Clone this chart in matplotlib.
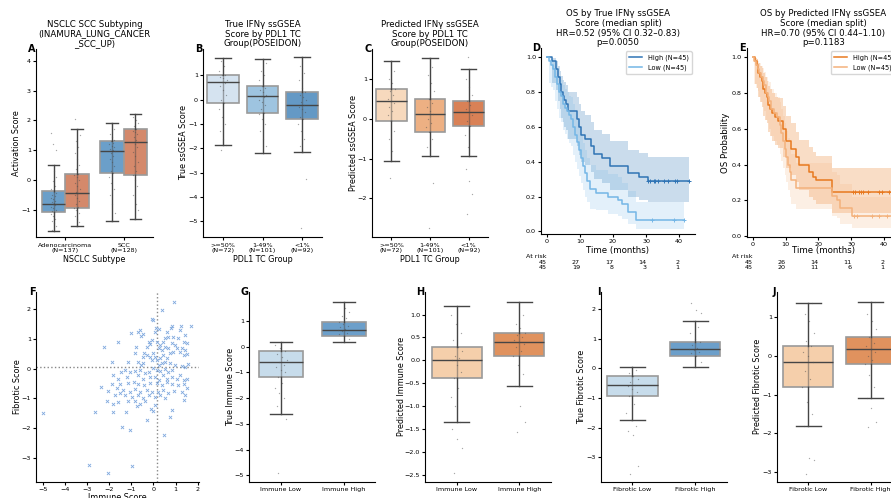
import matplotlib
matplotlib.use("Agg")
import matplotlib.pyplot as plt
import matplotlib.transforms as mtransforms
import numpy as np

plt.rcParams["font.family"] = ["DejaVu Sans"]

W, H = 891, 498

# ---------------- data ----------------
# box stats are (whislo, q1, median, q3, whishi)

# A: NSCLC subtype
a_groups = ["Adenocarcinoma\n(N=137)", "SCC\n(N=128)"]
a_box_blue = [(-1.72, -1.07, -0.80, -0.38, 0.50), (-1.37, 0.22, 0.96, 1.32, 1.90)]
a_box_orange = [(-1.56, -0.93, -0.45, 0.20, 1.71), (-1.31, 0.15, 1.29, 1.72, 2.20)]
a_pts_blue = [
    [-1.7, -1.55, -1.45, -1.38, -1.3, -1.22, -1.15, -1.1, -1.05, -1.0, -0.95, -0.9, -0.86,
     -0.82, -0.8, -0.78, -0.74, -0.7, -0.65, -0.6, -0.55, -0.5, -0.45, -0.4, -0.3, -0.2,
     -0.05, 0.1, 0.3, 0.5, 1.0, 1.2, 1.57],
    [-1.37, -1.1, -0.8, -0.5, -0.3, -0.1, 0.1, 0.22, 0.3, 0.45, 0.6, 0.7, 0.8, 0.9, 0.96,
     1.0, 1.05, 1.1, 1.15, 1.2, 1.25, 1.3, 1.35, 1.45, 1.55, 1.7, 1.9],
]
a_pts_orange = [
    [-1.55, -1.4, -1.3, -1.2, -1.1, -1.0, -0.95, -0.9, -0.8, -0.7, -0.6, -0.5, -0.45, -0.4,
     -0.3, -0.2, -0.1, 0.0, 0.1, 0.15, 0.2, 0.35, 0.5, 0.7, 0.9, 1.1, 1.3, 1.5, 1.7, 2.05],
    [-1.3, -1.0, -0.8, -0.5, -0.2, 0.0, 0.15, 0.3, 0.45, 0.6, 0.8, 0.95, 1.1, 1.2, 1.29,
     1.35, 1.45, 1.55, 1.6, 1.65, 1.7, 1.8, 1.9, 2.0, 2.1, 2.2],
]

# B / C: PDL1 TC groups
pdl1_groups = [">=50%\n(N=72)", "1-49%\n(N=101)", "<1%\n(N=92)"]
b_box = [(-1.85, -0.15, 0.73, 1.04, 1.74), (-2.20, -0.54, 0.14, 0.58, 1.69),
         (-2.15, -0.80, -0.23, 0.32, 1.76)]
b_pts = [
    [-2.05, -1.85, -1.6, -1.3, -1.0, -0.7, -0.4, -0.15, 0.0, 0.2, 0.4, 0.55, 0.7, 0.73, 0.8,
     0.9, 0.95, 1.0, 1.04, 1.2, 1.4, 1.6, 1.74],
    [-2.2, -1.9, -1.6, -1.3, -1.0, -0.8, -0.6, -0.54, -0.4, -0.2, -0.1, 0.0, 0.1, 0.14, 0.2,
     0.3, 0.4, 0.5, 0.58, 0.8, 1.0, 1.2, 1.5, 1.69],
    [-5.3, -3.25, -2.15, -1.9, -1.6, -1.3, -1.0, -0.8, -0.7, -0.5, -0.4, -0.3, -0.23, -0.1,
     0.0, 0.1, 0.2, 0.32, 0.5, 0.8, 1.1, 1.4, 1.76],
]
c_box = [(-1.06, -0.06, 0.46, 0.75, 1.46), (-0.94, -0.32, 0.12, 0.50, 1.53),
         (-0.94, -0.18, 0.18, 0.45, 1.26)]
c_pts = [
    [-1.48, -1.06, -0.8, -0.5, -0.3, -0.06, 0.1, 0.2, 0.3, 0.4, 0.46, 0.5, 0.6, 0.7, 0.75,
     0.9, 1.0, 1.2, 1.46],
    [-2.75, -1.6, -0.94, -0.7, -0.5, -0.32, -0.2, -0.1, 0.0, 0.12, 0.2, 0.3, 0.4, 0.5, 0.7,
     0.9, 1.1, 1.3, 1.53],
    [-2.4, -1.9, -1.55, -1.25, -0.94, -0.7, -0.4, -0.18, -0.05, 0.1, 0.18, 0.25, 0.35, 0.45,
     0.6, 0.8, 1.0, 1.26, 1.55],
]

# D / E: Kaplan-Meier (time in months, survival, CI low, CI high)
d_high_t = [0, 1.4, 2.8, 3.3, 3.8, 4.3, 4.8, 5.3, 5.8, 6.3, 9.0, 9.8, 10.2, 11.5, 13.2, 14.2,
            16.7, 19.0, 24.5, 28.0, 30.5, 43.1]
d_high_s = [1.0, 0.978, 0.933, 0.889, 0.844, 0.8, 0.778, 0.756, 0.733, 0.689, 0.644, 0.6,
            0.556, 0.533, 0.489, 0.444, 0.422, 0.378, 0.333, 0.311, 0.289, 0.289]
d_high_lo = [1.0, 0.85, 0.81, 0.75, 0.70, 0.65, 0.63, 0.60, 0.58, 0.53, 0.49, 0.44, 0.40,
             0.38, 0.34, 0.30, 0.28, 0.24, 0.20, 0.18, 0.17, 0.17]
d_high_hi = [1.0, 0.997, 0.98, 0.95, 0.92, 0.89, 0.87, 0.86, 0.84, 0.80, 0.77, 0.73, 0.69,
             0.67, 0.63, 0.58, 0.56, 0.52, 0.47, 0.45, 0.425, 0.425]
d_high_cens = [30.5, 31.3, 32.3, 32.8, 33.5, 35.4, 36.7, 38.6, 39.4, 43.1]
d_low_t = [0, 0.6, 1.2, 1.8, 2.4, 3.0, 3.6, 4.2, 4.8, 5.4, 6.0, 6.6, 7.2, 7.8, 8.4, 9.0, 9.6,
           10.2, 10.8, 11.4, 12.0, 13.0, 14.9, 18.6, 21.4, 22.8, 24.5, 26.8, 41.6]
d_low_s = [1.0, 0.978, 0.956, 0.933, 0.889, 0.844, 0.8, 0.778, 0.733, 0.711, 0.689, 0.667,
           0.644, 0.6, 0.556, 0.511, 0.467, 0.422, 0.378, 0.333, 0.289, 0.244, 0.222, 0.2,
           0.178, 0.156, 0.111, 0.067, 0.067]
d_low_lo = [1.0, 0.85, 0.83, 0.81, 0.75, 0.70, 0.65, 0.63, 0.58, 0.56, 0.53, 0.51, 0.49, 0.44,
            0.40, 0.36, 0.32, 0.28, 0.24, 0.20, 0.17, 0.13, 0.12, 0.10, 0.09, 0.07, 0.04,
            0.015, 0.015]
d_low_hi = [1.0, 0.997, 0.99, 0.98, 0.95, 0.92, 0.89, 0.87, 0.84, 0.82, 0.80, 0.78, 0.77, 0.73,
            0.69, 0.64, 0.60, 0.56, 0.51, 0.47, 0.42, 0.38, 0.35, 0.33, 0.31, 0.28, 0.23, 0.17,
            0.17]
d_low_cens = [31.8, 38.4, 41.6]

e_high_t = [0, 0.7, 1.2, 1.7, 2.2, 2.7, 3.2, 3.7, 4.2, 4.7, 5.2, 6.0, 6.7, 7.7, 9.2, 10.2,
            11.7, 13.2, 14.2, 17.2, 18.2, 19.2, 24.2, 43.0]
e_high_s = [1.0, 0.978, 0.956, 0.911, 0.889, 0.867, 0.822, 0.8, 0.778, 0.733, 0.711, 0.689,
            0.667, 0.644, 0.6, 0.533, 0.489, 0.444, 0.4, 0.356, 0.333, 0.311, 0.244, 0.244]
e_high_lo = [1.0, 0.85, 0.83, 0.78, 0.75, 0.72, 0.67, 0.65, 0.63, 0.58, 0.56, 0.53, 0.51,
             0.49, 0.44, 0.38, 0.34, 0.30, 0.26, 0.22, 0.20, 0.18, 0.13, 0.13]
e_high_hi = [1.0, 0.997, 0.99, 0.97, 0.95, 0.94, 0.91, 0.89, 0.87, 0.84, 0.82, 0.80, 0.78,
             0.77, 0.73, 0.67, 0.63, 0.58, 0.54, 0.50, 0.47, 0.45, 0.38, 0.38]
e_high_cens = [30.5, 31.2, 32.2, 32.9, 33.5, 35.2, 38.5, 39.2, 41.4]
e_low_t = [0, 0.5, 1.0, 1.5, 2.0, 2.5, 3.0, 3.5, 4.0, 4.5, 5.0, 5.5, 6.5, 7.5, 8.2, 8.7, 9.2,
           9.7, 10.2, 10.7, 11.2, 11.7, 13.2, 24.2, 25.5, 26.7, 30.2, 43.0]
e_low_s = [1.0, 0.978, 0.956, 0.933, 0.911, 0.889, 0.867, 0.844, 0.8, 0.778, 0.756, 0.711,
           0.689, 0.667, 0.622, 0.578, 0.533, 0.489, 0.444, 0.4, 0.356, 0.311, 0.267, 0.222,
           0.2, 0.156, 0.111, 0.111]
e_low_lo = [1.0, 0.85, 0.83, 0.81, 0.78, 0.75, 0.72, 0.70, 0.65, 0.63, 0.60, 0.56, 0.53, 0.51,
            0.46, 0.42, 0.38, 0.34, 0.30, 0.26, 0.22, 0.18, 0.15, 0.11, 0.10, 0.07, 0.045,
            0.045]
e_low_hi = [1.0, 0.997, 0.99, 0.98, 0.97, 0.95, 0.94, 0.92, 0.89, 0.87, 0.86, 0.82, 0.80, 0.78,
            0.75, 0.71, 0.67, 0.63, 0.59, 0.55, 0.50, 0.46, 0.41, 0.36, 0.34, 0.29, 0.22, 0.22]
e_low_cens = [30.7, 31.7, 36.2, 38.5, 40.7]

risk_times = [0, 10, 20, 30, 40]
d_risk_high = [45, 27, 17, 14, 2]
d_risk_low = [45, 19, 8, 3, 1]
e_risk_high = [45, 26, 14, 11, 2]
e_risk_low = [45, 20, 11, 6, 1]

# F: immune vs fibrotic scatter
f_points = [
    (0.95, 2.26), (0.38, 1.98), (-0.07, 1.67), (0.0, 1.64), (0.12, 1.36), (0.23, 1.33),
    (0.08, 1.25), (0.86, 1.45), (0.8, 1.36), (1.25, 1.45), (1.21, 1.3), (1.7, 1.45),
    (-0.6, 1.3), (-0.68, 1.22), (-0.45, 1.16), (-0.55, 1.11), (-1.0, 1.21), (0.6, 1.25),
    (0.68, 1.08), (0.9, 1.05), (0.53, 1.02), (1.13, 1.02), (1.43, 1.13), (1.36, 0.91),
    (1.51, 0.85), (-1.58, 0.91), (-2.22, 0.74), (-0.8, 0.74), (-0.83, 0.52), (-0.22, 0.91),
    (-0.15, 0.82), (-0.07, 0.97), (-0.3, 0.74), (0.15, 0.91), (0.3, 0.8), (0.41, 0.91),
    (0.23, 0.69), (0.38, 0.63), (0.53, 0.74), (0.68, 0.69), (0.83, 0.85), (0.98, 0.8),
    (1.05, 0.69), (1.2, 0.57), (0.9, 0.57), (0.75, 0.52), (1.28, 0.69), (1.43, 0.63),
    (1.36, 0.46), (1.51, 0.48), (-0.41, 0.52), (-0.3, 0.46), (-0.15, 0.41), (-0.45, 0.41),
    (0.0, 0.52), (0.08, 0.41), (-0.07, 0.29), (0.15, 0.29), (0.3, 0.35), (0.45, 0.46),
    (0.6, 0.35), (0.38, 0.18), (0.23, 0.12), (0.53, 0.24), (-1.16, 0.24), (-1.88, 0.24),
    (-0.68, 0.24), (-0.55, 0.12), (-0.45, 0.18), (0.75, 0.18), (0.98, 0.12), (1.28, 0.10),
    (1.43, 0.07), (1.58, 0.15), (0.0, 0.01), (0.15, -0.04), (0.3, -0.08), (0.53, 0.0),
    (0.68, -0.1), (0.86, -0.04), (-1.28, -0.04), (-1.46, -0.12), (-1.06, -0.1), (-0.83, -0.08),
    (-0.6, -0.04), (-0.38, -0.16), (-0.22, -0.1), (-1.81, -0.21), (-1.58, -0.33),
    (-1.21, -0.27), (-0.68, -0.21), (-0.45, -0.33), (-0.15, -0.27), (0.08, -0.27),
    (0.23, -0.38), (0.45, -0.21), (0.6, -0.33), (0.83, -0.27), (1.05, -0.33), (1.21, -0.21),
    (1.36, -0.38), (1.51, -0.33), (-1.88, -0.53), (-1.5, -0.53), (-1.13, -0.49),
    (-0.9, -0.46), (-0.68, -0.53), (-0.41, -0.55), (-0.15, -0.49), (0.15, -0.49),
    (0.38, -0.55), (0.6, -0.46), (0.86, -0.53), (1.13, -0.55), (1.4, -0.53), (-2.37, -0.61),
    (-2.04, -0.75), (-1.66, -0.66), (-1.36, -0.72), (-1.06, -0.78), (-0.83, -0.68),
    (-0.6, -0.78), (-0.3, -0.72), (-0.07, -0.78), (0.2, -0.78), (0.45, -0.72), (0.68, -0.83),
    (0.95, -0.75), (1.28, -0.78), (1.51, -0.64), (-1.76, -0.89), (-1.5, -0.83),
    (-1.28, -0.89), (-0.98, -0.94), (-0.68, -0.89), (-0.45, -0.98), (-0.22, -0.89),
    (0.08, -0.94), (0.3, -0.89), (0.53, -1.0), (1.43, -0.89), (-2.11, -1.09), (-1.58, -1.11),
    (-1.13, -1.09), (-0.83, -1.09), (-0.6, -1.17), (-0.38, -1.09), (-1.81, -1.2),
    (-0.75, -1.24), (0.08, -1.22), (1.36, -1.06), (-2.66, -1.47), (-1.84, -1.47),
    (-1.25, -1.47), (-0.1, -1.36), (0.86, -1.39), (-0.03, -1.41), (-0.3, -1.73),
    (0.75, -1.62), (-1.43, -1.95), (-1.06, -2.07), (-5.0, -1.48), (-2.9, -3.24),
    (-2.06, -3.5), (-0.95, -3.28), (0.48, -2.23),
]
f_immune_median = 0.15
f_fibrotic_median = 0.07

# G-J: low / high groups
immune_groups = ["Immune Low", "Immune High"]
fibrotic_groups = ["Fibrotic Low", "Fibrotic High"]
g_box = [(-2.63, -1.16, -0.60, -0.17, 0.17), (0.18, 0.43, 0.65, 0.97, 1.73)]
g_pts = [
    [-4.9, -2.8, -2.63, -2.3, -2.0, -1.8, -1.6, -1.4, -1.16, -1.0, -0.9, -0.8, -0.7, -0.6,
     -0.5, -0.4, -0.3, -0.17, -0.05, 0.05, 0.17],
    [0.18, 0.3, 0.43, 0.5, 0.55, 0.6, 0.65, 0.7, 0.75, 0.8, 0.9, 0.97, 1.1, 1.2, 1.35, 1.5,
     1.73],
]
h_box = [(-1.35, -0.38, 0.00, 0.30, 1.19), (-0.55, 0.09, 0.41, 0.60, 1.27)]
h_pts = [
    [-2.45, -1.9, -1.7, -1.5, -1.35, -1.0, -0.8, -0.6, -0.38, -0.25, -0.1, 0.0, 0.05, 0.1,
     0.2, 0.3, 0.45, 0.6, 0.8, 1.0, 1.18],
    [-1.55, -1.35, -1.0, -0.55, -0.3, -0.1, 0.09, 0.2, 0.3, 0.35, 0.41, 0.45, 0.5, 0.55,
     0.6, 0.7, 0.8, 1.0, 1.27],
]
i_box = [(-1.74, -0.93, -0.55, -0.27, 0.06), (0.06, 0.40, 0.64, 0.90, 1.60)]
i_pts = [
    [-3.55, -3.3, -2.25, -2.1, -1.95, -1.74, -1.5, -1.2, -0.93, -0.8, -0.7, -0.6, -0.55,
     -0.45, -0.35, -0.27, -0.15, -0.05, 0.06],
    [0.06, 0.2, 0.4, 0.5, 0.55, 0.6, 0.64, 0.7, 0.8, 0.9, 1.0, 1.2, 1.4, 1.6, 1.85, 1.95,
     2.2],
]
j_box = [(-1.82, -0.81, -0.16, 0.26, 1.37), (-1.09, -0.21, 0.17, 0.50, 1.40)]
j_pts = [
    [-3.05, -2.7, -2.65, -1.82, -1.5, -1.2, -0.81, -0.6, -0.4, -0.16, 0.0, 0.1, 0.26, 0.4,
     0.6, 0.9, 1.1, 1.37],
    [-1.85, -1.7, -1.35, -1.09, -0.8, -0.5, -0.21, -0.1, 0.0, 0.1, 0.17, 0.25, 0.35, 0.5,
     0.7, 0.9, 1.1, 1.4],
]

TICK_FS = 4.6
LABEL_FS = 5.8
TITLE_FS = 6.2


def px_axes(fig, left, top, right, bottom):
    ax = fig.add_axes([left / W, 1 - bottom / H, (right - left) / W, (bottom - top) / H])
    ax.px = (left, top, right, bottom)
    ax.spines[["top", "right"]].set_visible(False)
    ax.tick_params(labelsize=TICK_FS, length=2.5, width=0.8, pad=1.5)
    ax.tick_params(axis="y", pad=1.2)
    return ax


def letter(ax, s):
    ax.annotate(s, xy=(0, 1), xycoords="axes fraction", xytext=(-0.5, 0),
                textcoords="offset points", ha="right", va="center",
                fontsize=7, fontweight="bold")


def ylab(ax, text, px_right, fs=LABEL_FS):
    left, top, right, bottom = ax.px
    ax.set_ylabel(text, fontsize=fs)
    ax.yaxis.set_label_coords((px_right - left) / (right - left), 0.5)


def xlab(ax, text, px_top, fs=LABEL_FS):
    left, top, right, bottom = ax.px
    ax.set_xlabel(text, fontsize=fs)
    ax.xaxis.set_label_coords(0.5, (bottom - px_top) / (bottom - top))


def jitter(n, half):
    return ((np.arange(n) * 0.618034 + 0.31) % 1.0 - 0.5) * 2 * half


def draw_boxes(ax, stats, positions, width, colors, points, half=0.1):
    bs = [dict(whislo=s[0], q1=s[1], med=s[2], q3=s[3], whishi=s[4], fliers=[])
          for s in stats]
    line = dict(color="#454545", linewidth=1.0)
    art = ax.bxp(bs, positions=positions, widths=width, capwidths=width * 0.5,
                 patch_artist=True, showfliers=False, manage_ticks=False,
                 boxprops=dict(edgecolor="#9a9a9a", linewidth=1.2),
                 whiskerprops=line, capprops=line, medianprops=line)
    for patch, c in zip(art["boxes"], colors):
        patch.set_facecolor(c)
    for p, s in zip(positions, stats):
        ax.vlines(p, s[1], s[3], color="#454545", lw=1.0, alpha=0.45, zorder=2.1)
    for p, vals in zip(positions, points):
        ax.scatter(p + jitter(len(vals), half), vals, s=0.9, c="#505050", alpha=0.5,
                   linewidths=0, zorder=3)


def draw_km(ax, t, s, lo, hi, cens, color, alpha, label):
    ax.fill_between(t, lo, hi, step="post", color=color, alpha=alpha, lw=0)
    ax.step(t, s, where="post", color=color, lw=1.1, label=label)
    cs = [s[np.searchsorted(t, c, side="right") - 1] for c in cens]
    ax.plot(cens, cs, "+", color=color, ms=3, mew=0.7)


def at_risk(fig, ax, rows, x_label_px):
    tr = mtransforms.blended_transform_factory(ax.transData, fig.transFigure)
    fig.text(x_label_px / W, 1 - 256 / H, "At risk", fontsize=TICK_FS, ha="left",
             va="center")
    for row, ypx in zip(rows, [262.3, 267.7]):
        for t, n in zip(risk_times, row):
            ax.text(t, 1 - ypx / H, str(n), transform=tr, fontsize=TICK_FS, ha="right",
                    va="center")


def km_panel(fig, ax, high, low, colors, title, risk, x_label_px, xlabel_top):
    draw_km(ax, *high, colors[0], 0.25, "High (N=45)")
    draw_km(ax, *low, colors[1], 0.2, "Low (N=45)")
    ax.set_xlim(-1.8, 44.8)
    ax.set_xticks([0, 10, 20, 30, 40])
    ax.set_yticks([0.0, 0.2, 0.4, 0.6, 0.8, 1.0])
    ax.tick_params(axis="x", pad=1.0)
    ax.set_title(title, fontsize=TITLE_FS, pad=2, linespacing=1.1)
    xlab(ax, "Time (months)", xlabel_top, fs=6.2)
    ax.legend(loc="upper right", fontsize=4.7, frameon=True, edgecolor="#cccccc",
              borderpad=0.5, handlelength=2.0)
    at_risk(fig, ax, risk, x_label_px)


fig = plt.figure(figsize=(W / 100, H / 100), dpi=100)

# ---------- A ----------
ax = px_axes(fig, 36, 49, 153, 237)
draw_boxes(ax, a_box_blue, [-0.2, 0.8], 0.4, ["#6b9fc9"] * 2, a_pts_blue, half=0.05)
draw_boxes(ax, a_box_orange, [0.2, 1.2], 0.4, ["#d4896b"] * 2, a_pts_orange, half=0.05)
ax.set_xlim(-0.5, 1.5)
ax.set_ylim(-1.92, 4.40)
ax.set_xticks([0, 1], a_groups, linespacing=1.0)
ax.set_yticks([-1, 0, 1, 2, 3, 4])
ax.set_title("NSCLC SCC Subtyping\n(INAMURA_LUNG_CANCER\n_SCC_UP)", fontsize=TITLE_FS,
             pad=2, linespacing=1.1)
ylab(ax, "Activation Score", 21.5)
xlab(ax, "NSCLC Subtype", 254.5)
letter(ax, "A")

# ---------- B ----------
ax = px_axes(fig, 203, 49, 322, 237)
draw_boxes(ax, b_box, [0, 1, 2], 0.8, ["#d5e3f0", "#9ec4e0", "#6499c5"], b_pts)
ax.set_xlim(-0.5, 2.5)
ax.set_ylim(-5.65, 2.09)
ax.set_xticks([0, 1, 2], pdl1_groups, linespacing=1.0)
ax.set_yticks([-5, -4, -3, -2, -1, 0, 1])
ax.set_title("True IFNγ ssGSEA\nScore by PDL1 TC\nGroup(POSEIDON)", fontsize=TITLE_FS,
             pad=2, linespacing=1.1)
ylab(ax, "True ssGSEA Score", 188.5)
xlab(ax, "PDL1 TC Group", 254.5)
letter(ax, "B")

# ---------- C ----------
ax = px_axes(fig, 372, 49, 488, 237)
draw_boxes(ax, c_box, [0, 1, 2], 0.8, ["#f7d9bd", "#edb083", "#d98156"], c_pts)
ax.set_xlim(-0.5, 2.5)
ax.set_ylim(-2.97, 1.76)
ax.set_xticks([0, 1, 2], pdl1_groups, linespacing=1.0)
ax.set_yticks([-2, -1, 0, 1])
ax.set_title("Predicted IFNγ ssGSEA\nScore by PDL1 TC\nGroup(POSEIDON)", fontsize=TITLE_FS,
             pad=2, linespacing=1.1)
ylab(ax, "Predicted ssGSEA Score", 357.5)
xlab(ax, "PDL1 TC Group", 254.5)
letter(ax, "C")

# ---------- D ----------
ax = px_axes(fig, 541, 48, 695, 234.3)
km_panel(fig, ax,
         (d_high_t, d_high_s, d_high_lo, d_high_hi, d_high_cens),
         (d_low_t, d_low_s, d_low_lo, d_low_hi, d_low_cens),
         ["#2f74b5", "#74b6e6"],
         "OS by True IFNγ ssGSEA\nScore (median split)\nHR=0.52 (95% CI 0.32–0.83)\np=0.0050",
         [d_risk_high, d_risk_low], 526, 245.5)
ax.set_ylim(-0.017, 1.053)
letter(ax, "D")

# ---------- E ----------
ax = px_axes(fig, 746.8, 48, 900, 237.3)
km_panel(fig, ax,
         (e_high_t, e_high_s, e_high_lo, e_high_hi, e_high_cens),
         (e_low_t, e_low_s, e_low_lo, e_low_hi, e_low_cens),
         ["#e8791f", "#f4b27c"],
         "OS by Predicted IFNγ ssGSEA\nScore (median split)\nHR=0.70 (95% CI 0.44–1.10)\np=0.1183",
         [e_risk_high, e_risk_low], 732, 246.5)
ax.set_ylim(-0.007, 1.052)
ylab(ax, "OS Probability", 730, fs=6.2)
letter(ax, "E")

# ---------- F ----------
ax = px_axes(fig, 36, 292, 199, 481.7)
fx = [p[0] for p in f_points]
fy = [p[1] for p in f_points]
ax.scatter(fx, fy, marker="x", s=5, c="#7fa8de", linewidths=0.6, zorder=3)
ax.axvline(f_immune_median, color="#888888", ls=":", lw=1.0)
ax.axhline(f_fibrotic_median, color="#888888", ls=":", lw=1.0)
ax.set_xlim(-5.31, 2.06)
ax.set_ylim(-3.80, 2.58)
ax.set_xticks([-5, -4, -3, -2, -1, 0, 1, 2])
ax.set_yticks([-3, -2, -1, 0, 1, 2])
ylab(ax, "Fibrotic Score", 22.5)
xlab(ax, "Immune Score", 493)
letter(ax, "F")

# ---------- G-J ----------
bottom_panels = [
    ("G", (249.3, 375.0), g_box, g_pts, ["#c7dceb", "#6c9fca"], immune_groups,
     "True Immune Score", 235.0, (-5.25, 2.13), [-5, -4, -3, -2, -1, 0, 1]),
    ("H", (425.3, 550.7), h_box, h_pts, ["#f5cfab", "#e0925e"], immune_groups,
     "Predicted Immune Score", 405.5, (-2.64, 1.49),
     [-2.5, -2.0, -1.5, -1.0, -0.5, 0.0, 0.5, 1.0]),
    ("I", (601.0, 726.7), i_box, i_pts, ["#c7dceb", "#6c9fca"], fibrotic_groups,
     "True Fibrotic Score", 586.5, (-3.82, 2.57), [-3, -2, -1, 0, 1, 2]),
    ("J", (777.1, 901.9), j_box, j_pts, ["#f5cfab", "#e0925e"], fibrotic_groups,
     "Predicted Fibrotic Score", 762.0, (-3.26, 1.66), [-3, -2, -1, 0, 1]),
]
for name, (l, r), box, pts, cols, groups, ylabel, ypx, ylim, yticks in bottom_panels:
    ax = px_axes(fig, l, 292, r, 481.7)
    width = 0.7 if name == "G" else 0.8
    draw_boxes(ax, box, [0, 1], width, cols, pts)
    ax.set_xlim(-0.5, 1.5)
    ax.set_ylim(*ylim)
    ax.set_xticks([0, 1], groups)
    ax.set_yticks(yticks)
    ylab(ax, ylabel, ypx)
    letter(ax, name)

fig.savefig("out.png", dpi=100)
